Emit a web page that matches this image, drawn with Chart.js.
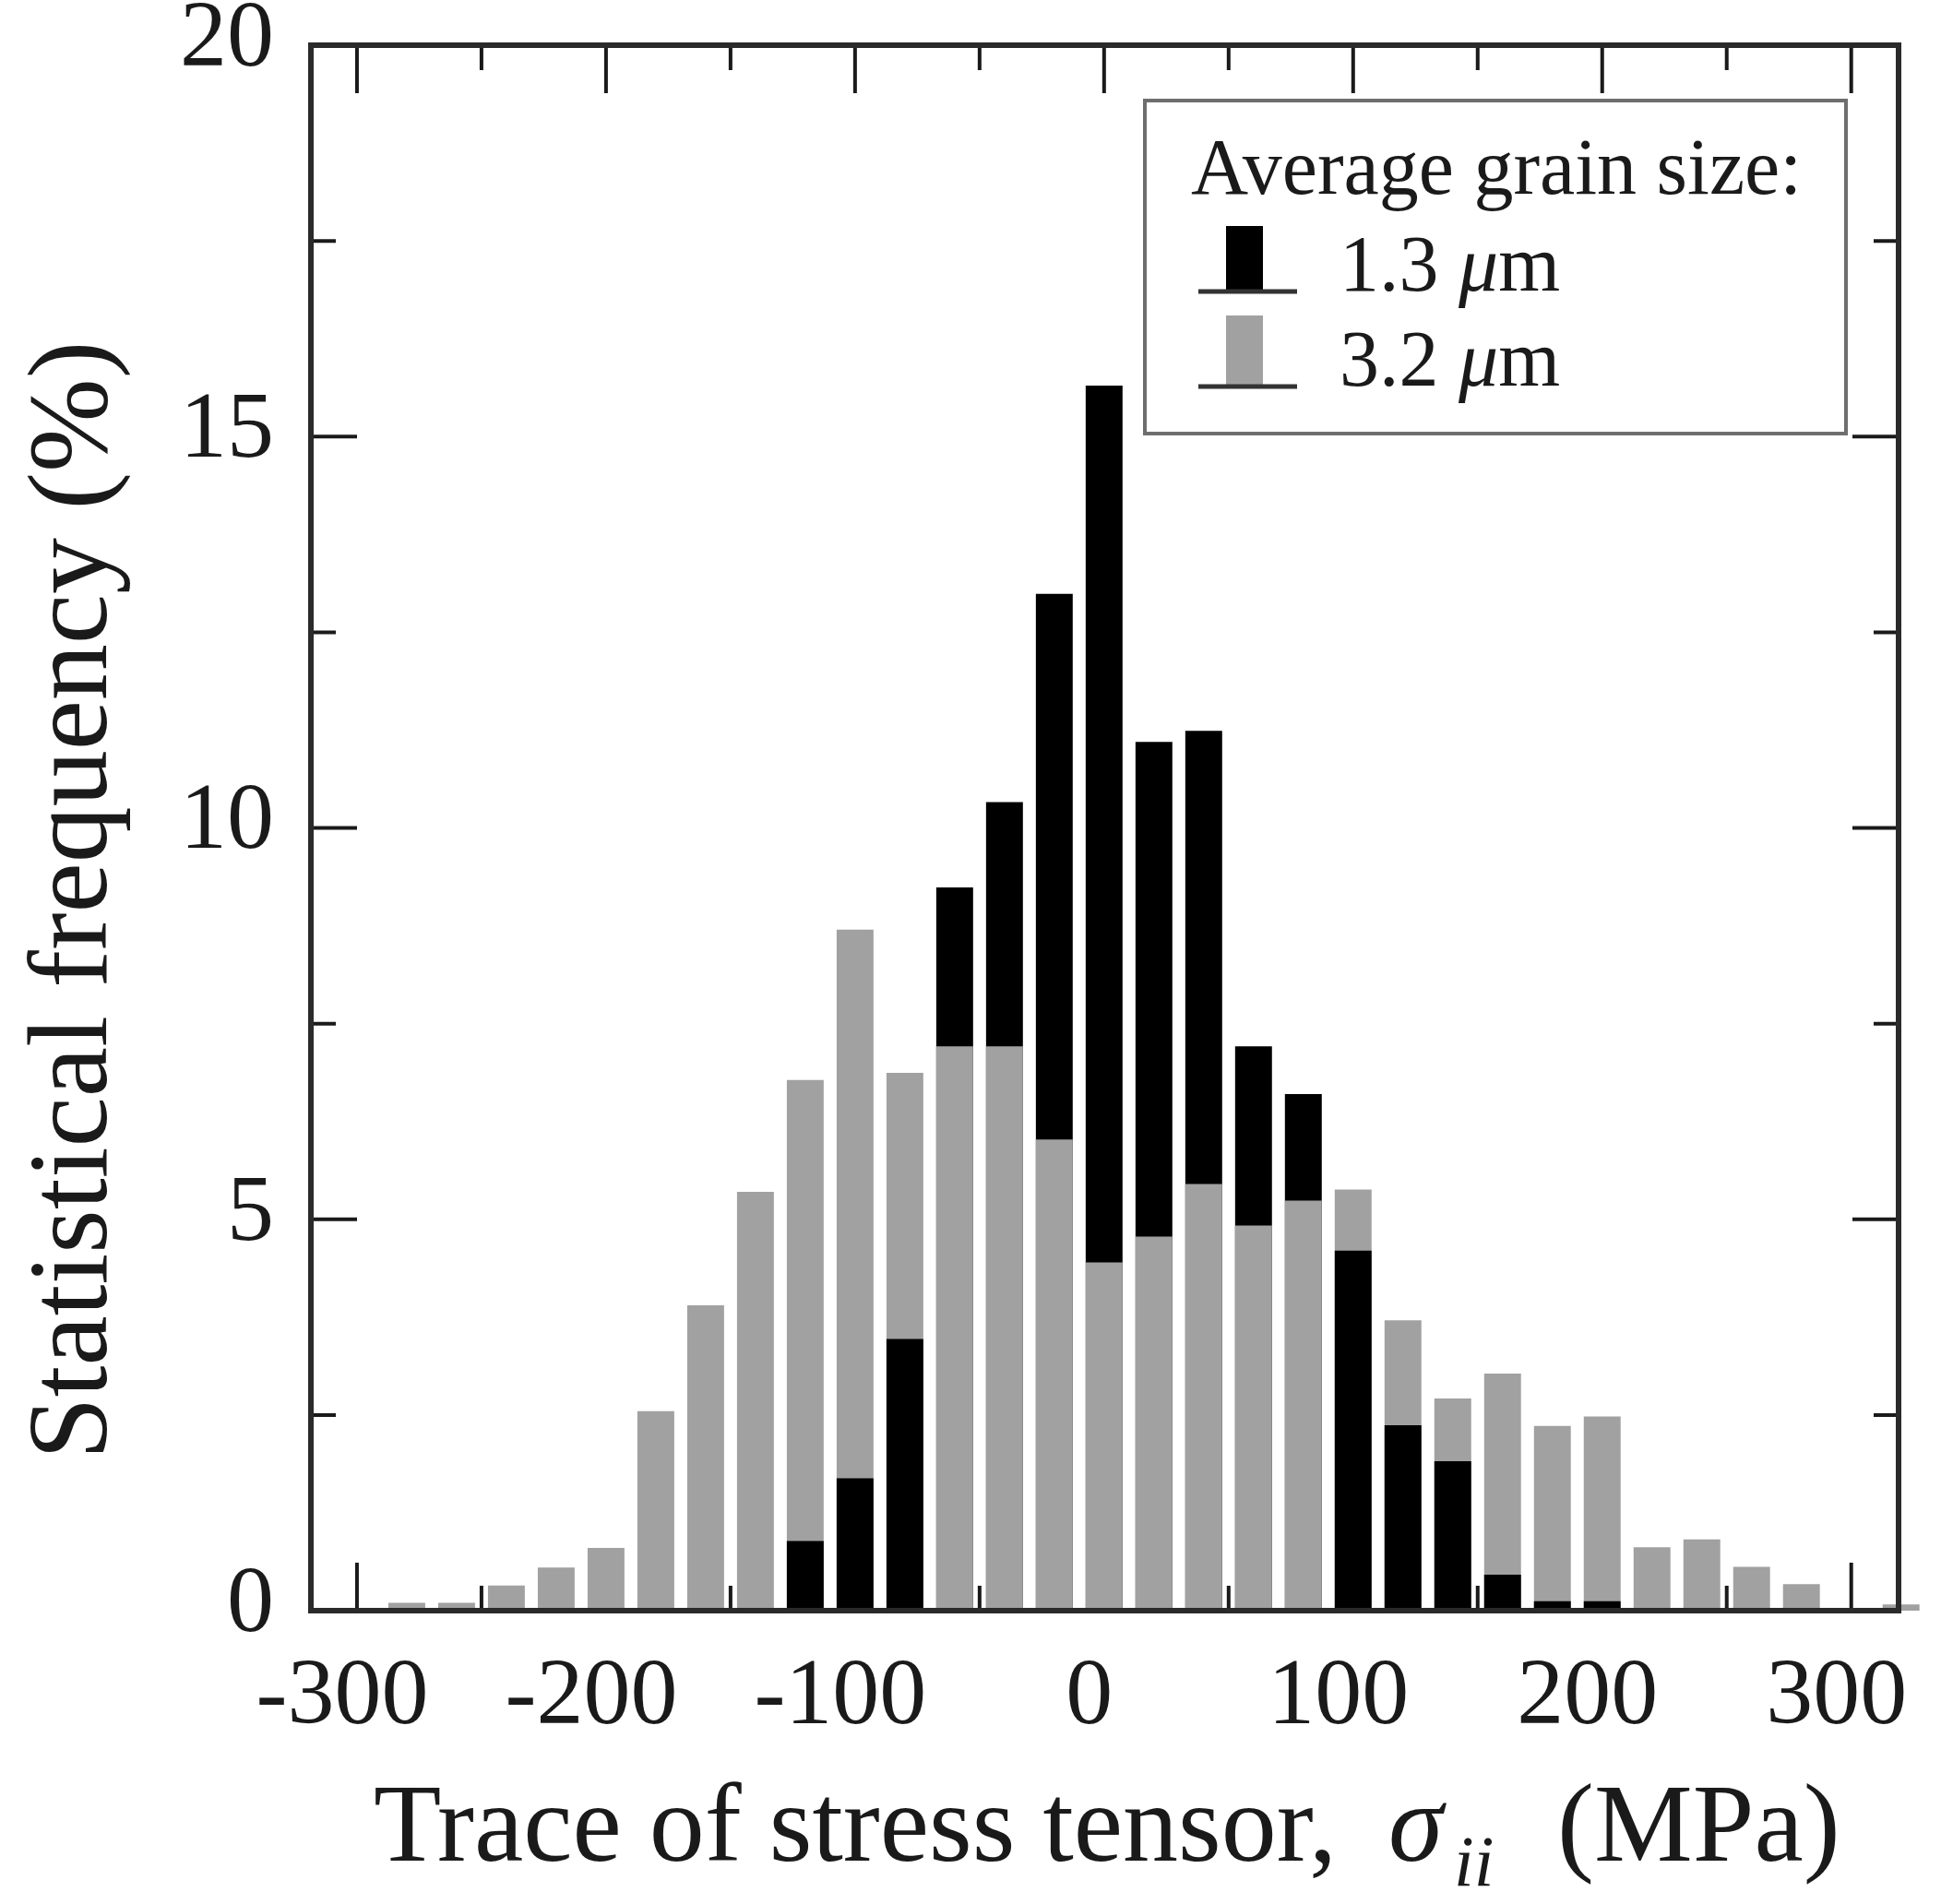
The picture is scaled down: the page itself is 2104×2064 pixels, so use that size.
<!DOCTYPE html>
<html>
<head>
<meta charset="utf-8">
<script src="https://cdn.jsdelivr.net/npm/chart.js@4.4.1/dist/chart.umd.min.js"></script>
<style>
  html, body { margin: 0; padding: 0; background: #fff; }
  canvas { display: block; }
</style>
</head>
<body>
<canvas id="chart" width="2104" height="2064"></canvas>
<script>
// bin centres of the histogram (MPa), 20 MPa wide bins
const binCenters = [-280, -260, -240, -220, -200, -180, -160, -140, -120, -100,
                    -80, -60, -40, -20, 0, 20, 40, 60, 80, 100,
                    120, 140, 160, 180, 200, 220, 240, 260, 280, 300, 320];
// statistical frequency (%) for each grain size
const grain13 = [0, 0, 0, 0, 0, 0, 0, 0, 0.89, 1.69,
                 3.47, 9.24, 10.33, 12.99, 15.65, 11.1, 11.24, 7.21, 6.6, 4.6,
                 2.37, 1.91, 0.46, 0.12, 0.12, 0, 0, 0, 0, 0, 0];
const grain32 = [0.1, 0.1, 0.32, 0.55, 0.8, 2.55, 3.9, 5.35, 6.78, 8.7,
                 6.87, 7.21, 7.21, 6.02, 4.45, 4.78, 5.45, 4.92, 5.24, 5.38,
                 3.71, 2.71, 3.03, 2.36, 2.48, 0.81, 0.91, 0.56, 0.34, 0, 0.08];
const xTickVals = [-300, -200, -100, 0, 100, 200, 300];
const yTickVals = [0, 5, 10, 15, 20];
const seriesNames = ['1.3 ', '3.2 '];
const legendTitle = 'Average grain size:';

const BLACK = '#000000';
const GRAY = '#a1a1a1';
const INK = '#1a1a1a';
const SERIF = "'Liberation Serif', 'Times New Roman', serif";

// in each bin the taller bar is behind and the shorter one in front
const backBars = binCenters.map((x, i) => ({ x: x, y: Math.max(grain13[i], grain32[i]) }));
const backColors = binCenters.map((x, i) => grain13[i] >= grain32[i] ? BLACK : GRAY);
const frontBars = binCenters.map((x, i) => ({ x: x, y: Math.min(grain13[i], grain32[i]) }));
const frontColors = binCenters.map((x, i) => grain13[i] >= grain32[i] ? GRAY : BLACK);

function drawTicks(ctx, a, xs, ys) {
    ctx.save();
    ctx.strokeStyle = INK;
    ctx.lineWidth = 4;
    ctx.beginPath();
    for (let v = -300; v <= 300; v += 50) {
        let px = xs.getPixelForValue(v);
        let len = v % 100 === 0 ? 52 : 27;
        ctx.moveTo(px, a.bottom); ctx.lineTo(px, a.bottom - len);
        ctx.moveTo(px, a.top); ctx.lineTo(px, a.top + len);
    }
    for (let v = 2.5; v < 20; v += 2.5) {
        let py = ys.getPixelForValue(v);
        let len = v % 5 === 0 ? 50 : 27;
        ctx.moveTo(a.left, py); ctx.lineTo(a.left + len, py);
        ctx.moveTo(a.right, py); ctx.lineTo(a.right - len, py);
    }
    ctx.stroke();
    ctx.restore();
}

function drawLegend(ctx) {
    ctx.save();
    ctx.fillStyle = '#fff';
    ctx.fillRect(1241, 109, 760, 361);
    ctx.strokeStyle = '#6e6e6e';
    ctx.lineWidth = 4;
    ctx.strokeRect(1241, 109, 760, 361);

    ctx.fillStyle = INK;
    ctx.textBaseline = 'alphabetic';
    ctx.font = '86px ' + SERIF;
    ctx.fillText(legendTitle, 1291, 210);

    const rows = [
        { color: BLACK, top: 245, base: 315, name: seriesNames[0] },
        { color: GRAY, top: 342, base: 418, name: seriesNames[1] }
    ];
    rows.forEach(r => {
        ctx.fillStyle = r.color;
        ctx.fillRect(1329, r.top, 40, r.base - r.top);
        ctx.strokeStyle = '#333';
        ctx.lineWidth = 5;
        ctx.beginPath();
        ctx.moveTo(1299, r.base + 1); ctx.lineTo(1406, r.base + 1);
        ctx.stroke();

        ctx.fillStyle = INK;
        let x = 1452;
        ctx.font = '86px ' + SERIF;
        ctx.fillText(r.name, x, r.base);
        x += ctx.measureText(r.name).width;
        ctx.font = 'italic 86px ' + SERIF;
        ctx.fillText('\u03bc', x, r.base);
        x += ctx.measureText('\u03bc').width;
        ctx.font = '86px ' + SERIF;
        ctx.fillText('m', x, r.base);
    });
    ctx.restore();
}

function drawTitles(ctx) {
    ctx.save();
    ctx.fillStyle = INK;
    ctx.textBaseline = 'alphabetic';

    // x axis title with italic sigma_ii
    ctx.font = '120px ' + SERIF;
    ctx.fillText('Trace of stress tensor,', 405, 2017);
    ctx.font = 'italic 120px ' + SERIF;
    ctx.fillText('\u03c3', 1505, 2017);
    ctx.font = 'italic 78px ' + SERIF;
    ctx.fillText('ii', 1576, 2044);
    ctx.font = '120px ' + SERIF;
    ctx.fillText('(MPa)', 1688, 2017);

    // y axis title
    ctx.translate(115, 976);
    ctx.rotate(-Math.PI / 2);
    ctx.textAlign = 'center';
    ctx.font = '122px ' + SERIF;
    ctx.fillText('Statistical frequency (%)', 0, 0);
    ctx.restore();
}

const framePlugin = {
    id: 'frame',
    beforeDatasetsDraw(chart) {
        drawTicks(chart.ctx, chart.chartArea, chart.scales.x, chart.scales.y);
    },
    afterDatasetsDraw(chart) {
        const a = chart.chartArea;
        const ctx = chart.ctx;
        ctx.save();
        ctx.strokeStyle = '#2a2a2a';
        ctx.lineWidth = 6;
        ctx.strokeRect(a.left, a.top, a.right - a.left, a.bottom - a.top);
        ctx.restore();
    },
    afterDraw(chart) {
        drawLegend(chart.ctx);
        drawTitles(chart.ctx);
    }
};

new Chart(document.getElementById('chart'), {
    type: 'bar',
    data: {
        datasets: [
            { label: 'front', data: frontBars, backgroundColor: frontColors, order: 0 },
            { label: 'back', data: backBars, backgroundColor: backColors, order: 1, clip: false }
        ]
    },
    options: {
        responsive: false,
        animation: false,
        devicePixelRatio: 1,
        layout: { padding: { top: 49, right: 46, left: 0, bottom: 0 } },
        datasets: {
            bar: { grouped: false, barPercentage: 0.74, categoryPercentage: 1, borderWidth: 0 }
        },
        plugins: { legend: { display: false }, tooltip: { enabled: false } },
        scales: {
            x: {
                type: 'linear', min: -318.5, max: 319, offset: false,
                grid: { display: false }, border: { display: false },
                afterBuildTicks: s => { s.ticks = xTickVals.map(v => ({ value: v })); },
                afterFit: s => { s.height = 318; s.paddingLeft = 0; s.paddingRight = 0; },
                ticks: { font: { family: SERIF, size: 102 }, color: INK, padding: 26,
                         labelOffset: -16, maxRotation: 0, autoSkip: false }
            },
            y: {
                type: 'linear', min: 0, max: 20,
                grid: { display: false }, border: { display: false },
                afterBuildTicks: s => { s.ticks = yTickVals.map(v => ({ value: v })); },
                afterFit: s => { s.width = 337; s.paddingTop = 0; s.paddingBottom = 0; },
                ticks: { font: { family: SERIF, size: 102 }, color: INK, padding: 32,
                         labelOffset: -5, autoSkip: false }
            }
        }
    },
    plugins: [framePlugin]
});
</script>
</body>
</html>
